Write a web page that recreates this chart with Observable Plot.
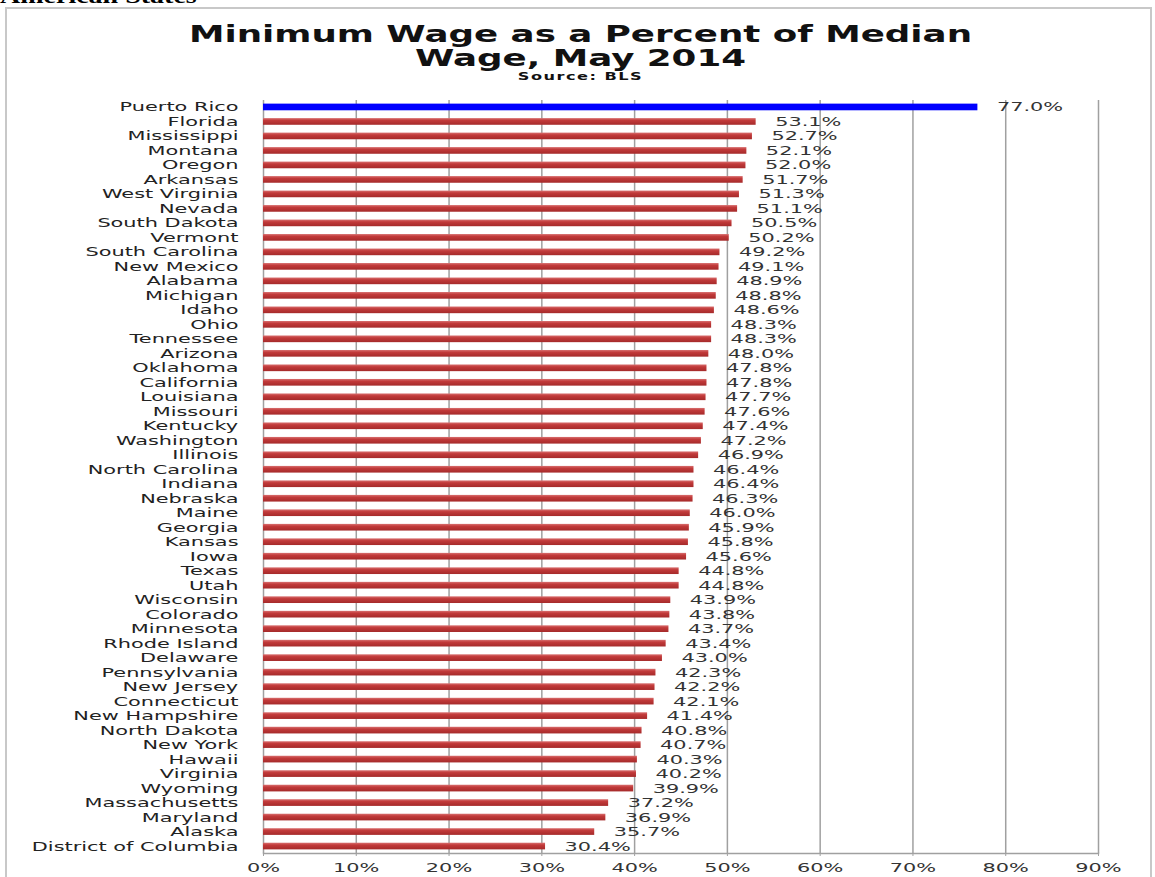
<!DOCTYPE html>
<html>
<head>
<meta charset="utf-8">
<script src="https://cdn.jsdelivr.net/npm/d3@7"></script>
<script src="https://cdn.jsdelivr.net/npm/@observablehq/plot@0.6"></script>
<style>
  html, body { margin: 0; padding: 0; background: #fff; width: 1155px; height: 877px; overflow: hidden; position: relative; }
  #above { position: absolute; left: 0; top: -14px; font-family: "Liberation Serif", "DejaVu Serif", serif; font-weight: bold; font-size: 20px; line-height: 20px; color: #000; transform: scaleX(1.4); transform-origin: left center; white-space: nowrap; }
  #box { position: absolute; left: 5px; top: 7px; width: 1147px; height: 880px; border: 2px solid #c8c8c8; box-sizing: border-box; }
  .t { position: absolute; left: 3px; width: 1155px; text-align: center; font-family: "DejaVu Sans", sans-serif; font-weight: bold; color: #111; line-height: 1; transform: scaleX(1.55); transform-origin: center; white-space: nowrap; }
  #t1 { top: 23px; font-size: 23px; }
  #t2 { top: 47px; font-size: 23px; }
  #t3 { top: 71px; font-size: 11px; letter-spacing: 1px; transform: scaleX(1.47); }
  #chart { position: absolute; left: 0; top: 85px; }
</style>
</head>
<body>
<div id="above">American States</div>
<div id="box"></div>
<div class="t" id="t1">Minimum Wage as a Percent of Median</div>
<div class="t" id="t2">Wage, May 2014</div>
<div class="t" id="t3">Source: BLS</div>
<div id="chart"></div>
<script>
const states = ["Puerto Rico","Florida","Mississippi","Montana","Oregon","Arkansas","West Virginia","Nevada","South Dakota","Vermont","South Carolina","New Mexico","Alabama","Michigan","Idaho","Ohio","Tennessee","Arizona","Oklahoma","California","Louisiana","Missouri","Kentucky","Washington","Illinois","North Carolina","Indiana","Nebraska","Maine","Georgia","Kansas","Iowa","Texas","Utah","Wisconsin","Colorado","Minnesota","Rhode Island","Delaware","Pennsylvania","New Jersey","Connecticut","New Hampshire","North Dakota","New York","Hawaii","Virginia","Wyoming","Massachusetts","Maryland","Alaska","District of Columbia"];
const values = [77.0,53.1,52.7,52.1,52.0,51.7,51.3,51.1,50.5,50.2,49.2,49.1,48.9,48.8,48.6,48.3,48.3,48.0,47.8,47.8,47.7,47.6,47.4,47.2,46.9,46.4,46.4,46.3,46.0,45.9,45.8,45.6,44.8,44.8,43.9,43.8,43.7,43.4,43.0,42.3,42.2,42.1,41.4,40.8,40.7,40.3,40.2,39.9,37.2,36.9,35.7,30.4];
const highlight = ["Puerto Rico"];
const xTicks = [0,10,20,30,40,50,60,70,80,90];

const data = states.map((s, i) => ({state: s, value: values[i], hi: highlight.includes(s)}));
const txtStyle = {letterSpacing: "1px"};

const chart = Plot.plot({
  width: 1155,
  height: 792,
  marginTop: 15,
  marginBottom: 24,
  marginLeft: 263,
  marginRight: 57,
  style: {fontFamily: "DejaVu Sans, sans-serif", fontSize: "12.5px", color: "#222", background: "transparent"},
  x: {domain: [0, 90], ticks: xTicks, label: null},
  y: {domain: states, paddingInner: 0.54, paddingOuter: 0.25, round: false, label: null},
  marks: [
    Plot.ruleX(xTicks.slice(1), {stroke: "#a0a0a0", strokeWidth: 1.5}),
    Plot.ruleX([0], {stroke: "#a0a0a0", strokeWidth: 1.5}),
    Plot.axisX({ticks: xTicks, tickFormat: d => d + "%", tickSize: 3, stroke: "#a0a0a0", tickPadding: 7, fontSize: 12.5, fill: "#333", style: txtStyle}),
    Plot.axisY({tickSize: 0, tickPadding: 25, fontSize: 12.5, fill: "#222", style: txtStyle}),
    Plot.frame({anchor: "bottom", stroke: "#a0a0a0", strokeWidth: 1.5}),
    Plot.barX(data.filter(d => !d.hi), {x: "value", y: "state", fill: "url(#redGrad)"}),
    Plot.barX(data.filter(d => d.hi), {x: "value", y: "state", fill: "#0000ff"}),
    Plot.text(data, {x: "value", y: "state", text: d => d.value.toFixed(1) + "%", textAnchor: "start", dx: 19, fontSize: 12.5, fill: "#333", style: txtStyle})
  ]
});

// bar shading gradient
const defs = d3.select(chart).insert("defs", ":first-child");
const g = defs.append("linearGradient").attr("id", "redGrad").attr("x1", 0).attr("y1", 0).attr("x2", 0).attr("y2", 1);
g.append("stop").attr("offset", "0%").attr("stop-color", "#d87070");
g.append("stop").attr("offset", "35%").attr("stop-color", "#c23a3a");
g.append("stop").attr("offset", "100%").attr("stop-color", "#a52a2a");

document.getElementById("chart").append(chart);

// widen text horizontally around its anchor, like the reference
const SX = 1.67;
chart.querySelectorAll("text").forEach(t => {
  const bb = t.getBBox();
  const anchor = getComputedStyle(t).textAnchor;
  const ax = anchor === "end" ? bb.x + bb.width : anchor === "middle" ? bb.x + bb.width / 2 : bb.x;
  const ay = bb.y + bb.height / 2;
  const tr = t.getAttribute("transform") || "";
  t.setAttribute("transform", `${tr} translate(${ax},${ay}) scale(${SX},1) translate(${-ax},${-ay})`);
});
</script>
</body>
</html>
